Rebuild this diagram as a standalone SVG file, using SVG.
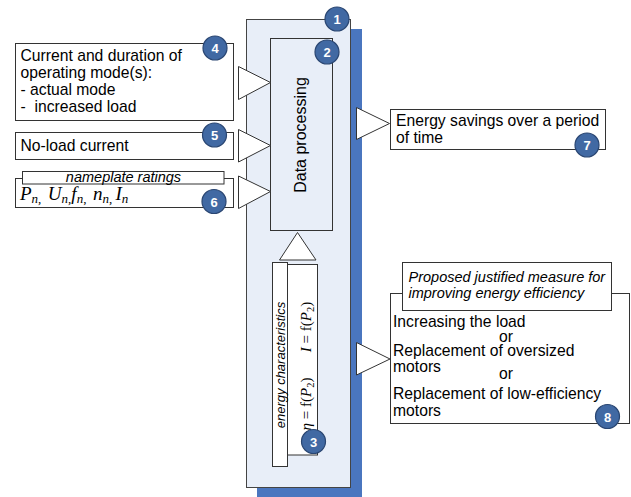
<svg xmlns="http://www.w3.org/2000/svg" width="631" height="497" viewBox="0 0 631 497">
<style>
.bx{fill:#fff;stroke:#333;stroke-width:1}
.lb{fill:#fff;stroke:#333;stroke-width:1}
.tri{fill:#fff;stroke:#333;stroke-width:1}
.t{font-family:"Liberation Sans",Arial,sans-serif;font-size:15.7px;fill:#000;white-space:pre}
.ti{font-family:"Liberation Sans",Arial,sans-serif;font-style:italic;fill:#000}
.m{font-family:"Liberation Serif","Times New Roman",serif;fill:#000;white-space:pre}
.i{font-style:italic}
.bc circle{fill:#4169a3;stroke:#2a4672;stroke-width:1.2}
.bc text{font-family:"Liberation Sans",Arial,sans-serif;font-weight:bold;font-size:13px;fill:#fff;text-anchor:middle}
</style>
<rect width="631" height="497" fill="#fff"/>

<g id="node1">
<rect x="257" y="29" width="105" height="468" fill="#4a76bf"/>
<rect x="246.5" y="19.5" width="104" height="468" fill="#e8eef8" stroke="#444" stroke-width="1"/>
</g>

<g id="node2">
<rect x="270.5" y="38.5" width="62" height="192" fill="#e8eef8" stroke="#333" stroke-width="1"/>
<text class="t" transform="translate(306,135) rotate(-90)" text-anchor="middle" style="font-size:16px">Data processing</text>
</g>

<g id="node3">
<rect x="287.5" y="264.5" width="30" height="190.5" class="bx"/>
<rect x="272.5" y="262.5" width="15" height="204" class="lb"/>
<text class="ti" transform="translate(284.5,365) rotate(-90)" text-anchor="middle" style="font-size:13px">energy characteristics</text>
<text class="m" transform="translate(310.5,404) rotate(-90)" text-anchor="middle" style="font-size:15px"><tspan class="i">η</tspan> = f(<tspan class="i">P</tspan><tspan font-size="10.5" baseline-shift="-3">2</tspan>)</text>
<text class="m" transform="translate(310.5,327) rotate(-90)" text-anchor="middle" style="font-size:15px"><tspan class="i">I</tspan> = f(<tspan class="i">P</tspan><tspan font-size="10.5" baseline-shift="-3">2</tspan>)</text>
</g>

<g id="node4">
<rect x="15.5" y="43.5" width="218" height="77" class="bx"/>
<text class="t" x="20.5" y="61">Current and duration of</text>
<text class="t" x="20.5" y="78">operating mode(s):</text>
<text class="t" x="20.5" y="95">- actual mode</text>
<text class="t" x="20.5" y="112">-  increased load</text>
</g>

<g id="node5">
<rect x="15.5" y="132.5" width="218" height="27" class="bx"/>
<text class="t" x="20.5" y="151">No-load current</text>
</g>

<g id="node6">
<rect x="15.5" y="178.5" width="218" height="29" class="bx"/>
<rect x="22.5" y="171.5" width="201.5" height="12.5" class="lb"/>
<text class="ti" x="123.5" y="181.5" text-anchor="middle" style="font-size:14.5px">nameplate ratings</text>
<text class="m" x="20" y="200" style="font-size:19px"><tspan class="i">P</tspan><tspan class="i" font-size="13" baseline-shift="-3">n</tspan><tspan font-size="13" baseline-shift="-3">,  </tspan><tspan class="i">U</tspan><tspan class="i" font-size="13" baseline-shift="-3">n</tspan><tspan font-size="13" baseline-shift="-3">,</tspan><tspan class="i">f</tspan><tspan class="i" font-size="13" baseline-shift="-3">n</tspan><tspan font-size="13" baseline-shift="-3">,  </tspan><tspan class="i">n</tspan><tspan class="i" font-size="13" baseline-shift="-3">n</tspan><tspan font-size="13" baseline-shift="-3">, </tspan><tspan class="i">I</tspan><tspan class="i" font-size="13" baseline-shift="-3">n</tspan></text>
</g>

<g id="node7">
<rect x="390.5" y="109.5" width="215" height="40" class="bx"/>
<text class="t" x="396" y="125.5">Energy savings over a period</text>
<text class="t" x="396" y="143">of time</text>
</g>

<g id="node8">
<rect x="390.5" y="293.5" width="239" height="130" class="bx"/>
<rect x="402.5" y="262.5" width="209" height="48" class="lb"/>
<text class="ti" x="408.5" y="281.5" style="font-size:14.5px">Proposed justified measure for</text>
<text class="ti" x="408.5" y="297.5" style="font-size:14.5px">improving energy efficiency</text>
<text class="t" x="393" y="327">Increasing the load</text>
<text class="t" x="506" y="342" text-anchor="middle">or</text>
<text class="t" x="393" y="355.5">Replacement of oversized</text>
<text class="t" x="393" y="372">motors</text>
<text class="t" x="506" y="379" text-anchor="middle">or</text>
<text class="t" x="393" y="398.5">Replacement of low-efficiency</text>
<text class="t" x="393" y="416">motors</text>
</g>

<g id="connectors">
<polygon class="tri" points="238.5,66.5 270.5,82.5 238.5,99.5"/>
<polygon class="tri" points="238.5,129.5 270.5,145.5 238.5,162"/>
<polygon class="tri" points="238.5,176 270.5,191.5 238.5,208.5"/>
<polygon class="tri" points="356.5,107.5 389.5,123.5 356.5,139.5"/>
<polygon class="tri" points="356.5,342.5 390,359 356.5,375"/>
<polygon class="tri" points="279.5,260 297.5,232.5 316,260"/>
</g>

<g id="badges" class="bc">
<g id="badge1"><circle cx="337" cy="19" r="12"/><text x="337" y="24">1</text></g>
<g id="badge2"><circle cx="327" cy="52" r="12"/><text x="327" y="57">2</text></g>
<g id="badge3"><circle cx="313.5" cy="441.5" r="12"/><text x="313.5" y="446.5">3</text></g>
<g id="badge4"><circle cx="215" cy="48" r="12"/><text x="215" y="53">4</text></g>
<g id="badge5"><circle cx="214.5" cy="135" r="12"/><text x="214.5" y="140">5</text></g>
<g id="badge6"><circle cx="214" cy="201.5" r="12"/><text x="214" y="206.5">6</text></g>
<g id="badge7"><circle cx="587" cy="145" r="12"/><text x="587" y="150">7</text></g>
<g id="badge8"><circle cx="607.5" cy="416.5" r="12"/><text x="607.5" y="421.5">8</text></g>
</g>
</svg>
